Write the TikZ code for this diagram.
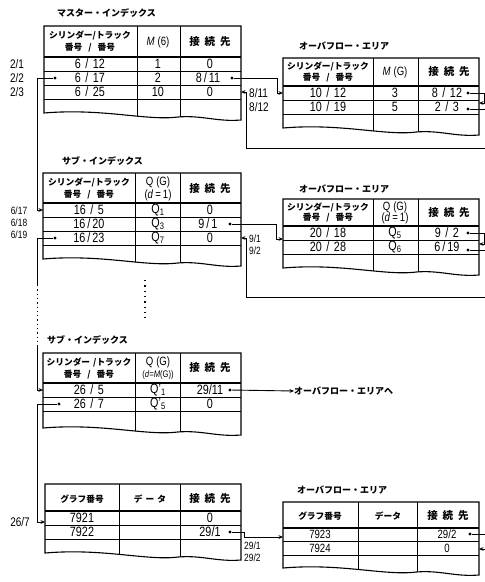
\documentclass[tikz,border=0pt]{standalone}
\usepackage{fontspec}
\setmainfont{Liberation Sans}[FakeStretch=0.8]
\newfontfamily\jp{Noto Sans CJK JP}
\usetikzlibrary{arrows.meta}
\newcommand\sep{\hspace{4.5pt}/\hspace{4.5pt}}
\newcommand\ssep{\hspace{2pt}/\hspace{2pt}}
\tikzset{
  frame/.style={line width=1.1pt},
  inner/.style={line width=0.9pt},
  hdr/.style={line width=2.3pt},
  conn/.style={line width=0.9pt},
  arr/.style={conn,-{Stealth[length=4.5pt,width=3.8pt]}},
  rarr/.style={conn,{Stealth[length=4.5pt,width=3.8pt]}-},
  dotc/.style={circle,fill=black,inner sep=0pt,minimum size=3.2pt},
  jt/.style={font=\jp\bfseries\fontsize{9}{9}\selectfont,inner sep=0pt},
  jh/.style={font=\jp\bfseries\fontsize{8.7}{8.7}\selectfont,inner sep=0pt},
  jk/.style={font=\jp\bfseries\fontsize{10.5}{10.5}\selectfont,inner sep=0pt},
  qh/.style={font=\fontsize{12}{12}\selectfont,inner sep=0pt},
  qs/.style={font=\fontsize{9.5}{9.5}\selectfont,inner sep=0pt},
  num/.style={font=\fontsize{13.5}{13.5}\selectfont,inner sep=0pt},
  nums/.style={font=\fontsize{12}{12}\selectfont,inner sep=0pt},
  lab/.style={font=\fontsize{12.5}{12.5}\selectfont,inner sep=0pt},
  labs/.style={font=\fontsize{10.5}{10.5}\selectfont,inner sep=0pt},
}
\newcommand\kk{接\hspace{5pt}続\hspace{5pt}先}
% #1 L  #2 c1  #3 c2  #4 R  #5 top  #6 thick line  #7 thin lines  #8 bottom (left)
\newcommand\tbl[8]{%
  \begin{scope}
    \clip (#1,#5) -- (#4,#5) -- (#4,{#8+7})
      .. controls ({#1+0.88*(#4-#1)},{#8+9}) and ({#1+0.8*(#4-#1)},{#8+2}) .. ({#1+0.68*(#4-#1)},{#8+4})
      .. controls ({#1+0.52*(#4-#1)},{#8+8}) and ({#1+0.3*(#4-#1)},{#8-5}) .. (#1,#8) -- cycle;
    \draw[hdr] (#1,#6) -- (#4,#6);
    \foreach \yy in {#7} {\draw[inner] (#1,\yy) -- (#4,\yy);}
    \draw[inner] (#2,#5) -- (#2,{#8+20});
    \draw[inner] (#3,#5) -- (#3,{#8+20});
  \end{scope}
  \draw[frame] (#1,#5) -- (#4,#5) -- (#4,{#8+7})
      .. controls ({#1+0.88*(#4-#1)},{#8+9}) and ({#1+0.8*(#4-#1)},{#8+2}) .. ({#1+0.68*(#4-#1)},{#8+4})
      .. controls ({#1+0.52*(#4-#1)},{#8+8}) and ({#1+0.3*(#4-#1)},{#8-5}) .. (#1,#8) -- cycle;
}
\begin{document}
\begin{tikzpicture}[x=1pt,y=-1pt]
\fill[white] (0,0) rectangle (485,582);
\useasboundingbox (0,0) rectangle (485,582);

% ---------------- master index
\node[jt,anchor=west] (tm) at (57,13) {マスター・インデックス};
\tbl{44}{137}{180}{241}{26}{57}{71,85,99}{113}
\node[jh] (mh1a) at (90,35) {シリンダー/トラック};
\node[jh] (mh1b) at (90,48) {番号\hspace{6pt}/\hspace{6pt}番号};
\node[qh] (mh2) at (158,42) {\textit{M}\hspace{3pt}(6)};
\node[jk] (mh3) at (210,42) {\kk};
\node[num] (m11) at (90,64) {6\sep 12};
\node[num] (m12) at (158,64) {1};
\node[num] (m13) at (210,64) {0};
\node[num] (m21) at (90,78) {6\sep 17};
\node[num] (m22) at (158,78) {2};
\node[num] (m23) at (208,78) {8\ssep 11};
\node[num] (m31) at (90,92) {6\sep 25};
\node[num] (m32) at (158,92) {10};
\node[num] (m33) at (210,92) {0};
\node[lab] (ml1) at (17,64) {2/1};
\node[lab] (ml2) at (17,78) {2/2};
\node[lab] (ml3) at (17,92) {2/3};
\node[dotc] (mdl) at (55,78) {};
\node[dotc] (mdr) at (232,78) {};
\coordinate (mr3) at (241,92);

% ---------------- overflow area 1
\node[jt,anchor=west] (to1) at (299,46) {オーバフロー・エリア};
\tbl{283}{373}{418}{479}{58}{86}{100,114}{128}
\node[jh] (o1h1a) at (328,66) {シリンダー/トラック};
\node[jh] (o1h1b) at (328,78) {番号\hspace{6pt}/\hspace{6pt}番号};
\node[qh] (o1h2) at (395,72) {\textit{M}\hspace{3pt}(G)};
\node[jk] (o1h3) at (449,72) {\kk};
\node[num] (o111) at (328,93) {10\sep 12};
\node[num] (o112) at (395,93) {3};
\node[num] (o113) at (447,93) {8\sep 12};
\node[num] (o121) at (328,107) {10\sep 19};
\node[num] (o122) at (395,107) {5};
\node[num] (o123) at (447,107) {2\sep 3};
\node[lab,anchor=west] (o1l1) at (249,93) {8/11};
\node[lab,anchor=west] (o1l2) at (249,107) {8/12};
\coordinate (o1in) at (283,93);
\node[dotc] (o1d1) at (468,93) {};
\node[dotc] (o1d2) at (468,109) {};
\coordinate (o1r2) at (479,103);
\coordinate (e1) at (486,109);
\coordinate (m148) at (486,148);

% ---------------- sub index 1
\node[jt,anchor=west] (ts1) at (62,161) {サブ・インデックス};
\tbl{43}{135}{180}{241}{173}{203}{217,231,245}{259}
\node[jh] (s1h1a) at (89,182) {シリンダー/トラック};
\node[jh] (s1h1b) at (89,195) {番号\hspace{6pt}/\hspace{6pt}番号};
\node[qh] (s1h2a) at (158,182) {Q\hspace{3pt}(G)};
\node[qh] (s1h2b) at (158,195) {(\textit{d}\,=\,1)};
\node[jk] (s1h3) at (210,189) {\kk};
\node[num] (s111) at (89,210) {16\sep 5};
\node[num] (s112) at (158,210) {Q\textsubscript{1}};
\node[num] (s113) at (210,210) {0};
\node[num] (s121) at (89,224) {16\ssep 20};
\node[num] (s122) at (158,224) {Q\textsubscript{3}};
\node[num] (s123) at (208,224) {9\ssep 1};
\node[num] (s131) at (89,238) {16\ssep 23};
\node[num] (s132) at (158,238) {Q\textsubscript{7}};
\node[num] (s133) at (210,238) {0};
\node[labs] (sl1) at (19,211) {6/17};
\node[labs] (sl2) at (19,223) {6/18};
\node[labs] (sl3) at (19,235) {6/19};
\coordinate (s1in) at (43,210);
\node[dotc] (s1d2) at (230,224) {};
\node[dotc] (s1d3) at (55,238) {};
\coordinate (s1r3) at (241,238);
\coordinate (dA) at (37,285);
\coordinate (dB) at (37,345);
\coordinate (cA) at (145,280);
\coordinate (cB) at (145,322);

% ---------------- overflow area 2
\node[jt,anchor=west] (to2) at (299,189) {オーバフロー・エリア};
\tbl{283}{373}{418}{479}{199}{226}{240,254}{268}
\node[jh] (o2h1a) at (328,207) {シリンダー/トラック};
\node[jh] (o2h1b) at (328,218) {番号\hspace{6pt}/\hspace{6pt}番号};
\node[qh] (o2h2a) at (395,207) {Q\hspace{3pt}(G)};
\node[qh] (o2h2b) at (395,218) {(\textit{d}\,=\,1)};
\node[jk] (o2h3) at (449,213) {\kk};
\node[num] (o211) at (328,233) {20\sep 18};
\node[num] (o212) at (395,233) {Q\textsubscript{5}};
\node[num] (o213) at (447,233) {9\sep 2};
\node[num] (o221) at (328,247) {20\sep 28};
\node[num] (o222) at (395,247) {Q\textsubscript{6}};
\node[num] (o223) at (447,247) {6\ssep 19};
\node[labs,anchor=west] (o2l1) at (249,239) {9/1};
\node[labs,anchor=west] (o2l2) at (249,251) {9/2};
\coordinate (o2in) at (283,239);
\node[dotc] (o2d1) at (468,233) {};
\node[dotc] (o2d2) at (468,250) {};
\coordinate (o2r2) at (479,244);
\coordinate (e3) at (486,250);
\coordinate (s297) at (486,297);

% ---------------- sub index 2
\node[jt,anchor=west] (ts2) at (47,340) {サブ・インデックス};
\tbl{43}{135}{180}{241}{353}{383}{397,411}{428}
\node[jh] (s2h1a) at (89,362) {シリンダー\hspace{3pt}/トラック};
\node[jh] (s2h1b) at (89,375) {番号\hspace{6pt}/\hspace{6pt}番号};
\node[qh] (s2h2a) at (158,362) {Q\hspace{3pt}(G)};
\node[qs] (s2h2b) at (158,375) {(\textit{d}=\textit{M}(G))};
\node[jk] (s2h3) at (210,368) {\kk};
\node[num] (s211) at (89,390) {26\sep 5};
\node[num] (s212) at (158,390) {Q'\textsubscript{1}};
\node[num] (s213) at (210,390) {29/11};
\node[num] (s221) at (89,404) {26\sep 7};
\node[num] (s222) at (158,404) {Q'\textsubscript{5}};
\node[num] (s223) at (210,404) {0};
\coordinate (s2in) at (43,390);
\node[dotc] (s2d1) at (230,390) {};
\node[dotc] (s2d2) at (59,404) {};
\node[jt,anchor=west] (ohe) at (294,391) {オーバフロー・エリアへ};

% ---------------- data block
\tbl{45}{119}{180}{241}{484}{511}{525,539}{553}
\node[jh] (dh1) at (82,499) {グラフ番号};
\node[jh] (dh2) at (150,499) {デ\hspace{3pt}ー\hspace{3pt}タ};
\node[jk] (dh3) at (210,499) {\kk};
\node[num] (d11) at (82,518) {7921};
\node[num] (d13) at (210,518) {0};
\node[num] (d21) at (82,532) {7922};
\node[num] (d23) at (210,532) {29/1};
\node[lab] (dl1) at (20,522) {26/7};
\coordinate (din) at (45,522);
\node[dotc] (dd2) at (230,532) {};

% ---------------- overflow area 3
\node[jt,anchor=west] (to3) at (297,490) {オーバフロー・エリア};
\tbl{283}{358}{417}{479}{502}{528}{541,555}{568}
\node[jh] (o3h1) at (320,516) {グラフ番号};
\node[jh] (o3h2) at (388,516) {データ};
\node[jk] (o3h3) at (448,516) {\kk};
\node[nums] (o311) at (320,534) {7923};
\node[nums] (o313) at (447,534) {29/2};
\node[nums] (o321) at (320,548) {7924};
\node[nums] (o323) at (447,548) {0};
\node[labs,anchor=west] (o3l1) at (244,546) {29/1};
\node[labs,anchor=west] (o3l2) at (244,558) {29/2};
\coordinate (o3in) at (283,537);
\node[dotc] (o3d1) at (470,534) {};
\coordinate (o3r2) at (479,549);
\coordinate (e4) at (486,534);
\coordinate (e5) at (486,549);

% ---------------- connectors
\draw[arr] (mdl) -- ++(-18,0) |- (s1in);
\draw[arr] (mdr) -- ++(45,0) |- (o1in);
\draw[rarr] (mr3) -- ++(5,0) |- (m148);
\draw[arr] (o1d1) -- ++(16,0) |- (o1r2);
\draw[conn] (o1d2) -- (e1);

\draw[arr] (s1d2) -- ++(46,0) |- (o2in);
\draw[rarr] (s1r3) -- ++(5,0) |- (s297);
\draw[conn] (s1d3) -| (dA);
\draw[conn,dash pattern=on 1.3pt off 3pt] (dA) -- (dB);
\draw[arr] (dB) |- (s2in);
\draw[line width=1.1pt,dash pattern=on 1.3pt off 4pt] (cA) -- (cB);
\draw[arr] (o2d1) -- ++(16,0) |- (o2r2);
\draw[conn] (o2d2) -- (e3);

\draw[arr] (s2d1) -- (ohe.west);
\draw[arr] (s2d2) -- ++(-22,0) |- (din);

\draw[arr] (dd2) -- ++(14,0) |- (o3in);
\draw[conn] (o3d1) -- (e4);
\draw[rarr] (o3r2) -- (e5);
\end{tikzpicture}
\end{document}
